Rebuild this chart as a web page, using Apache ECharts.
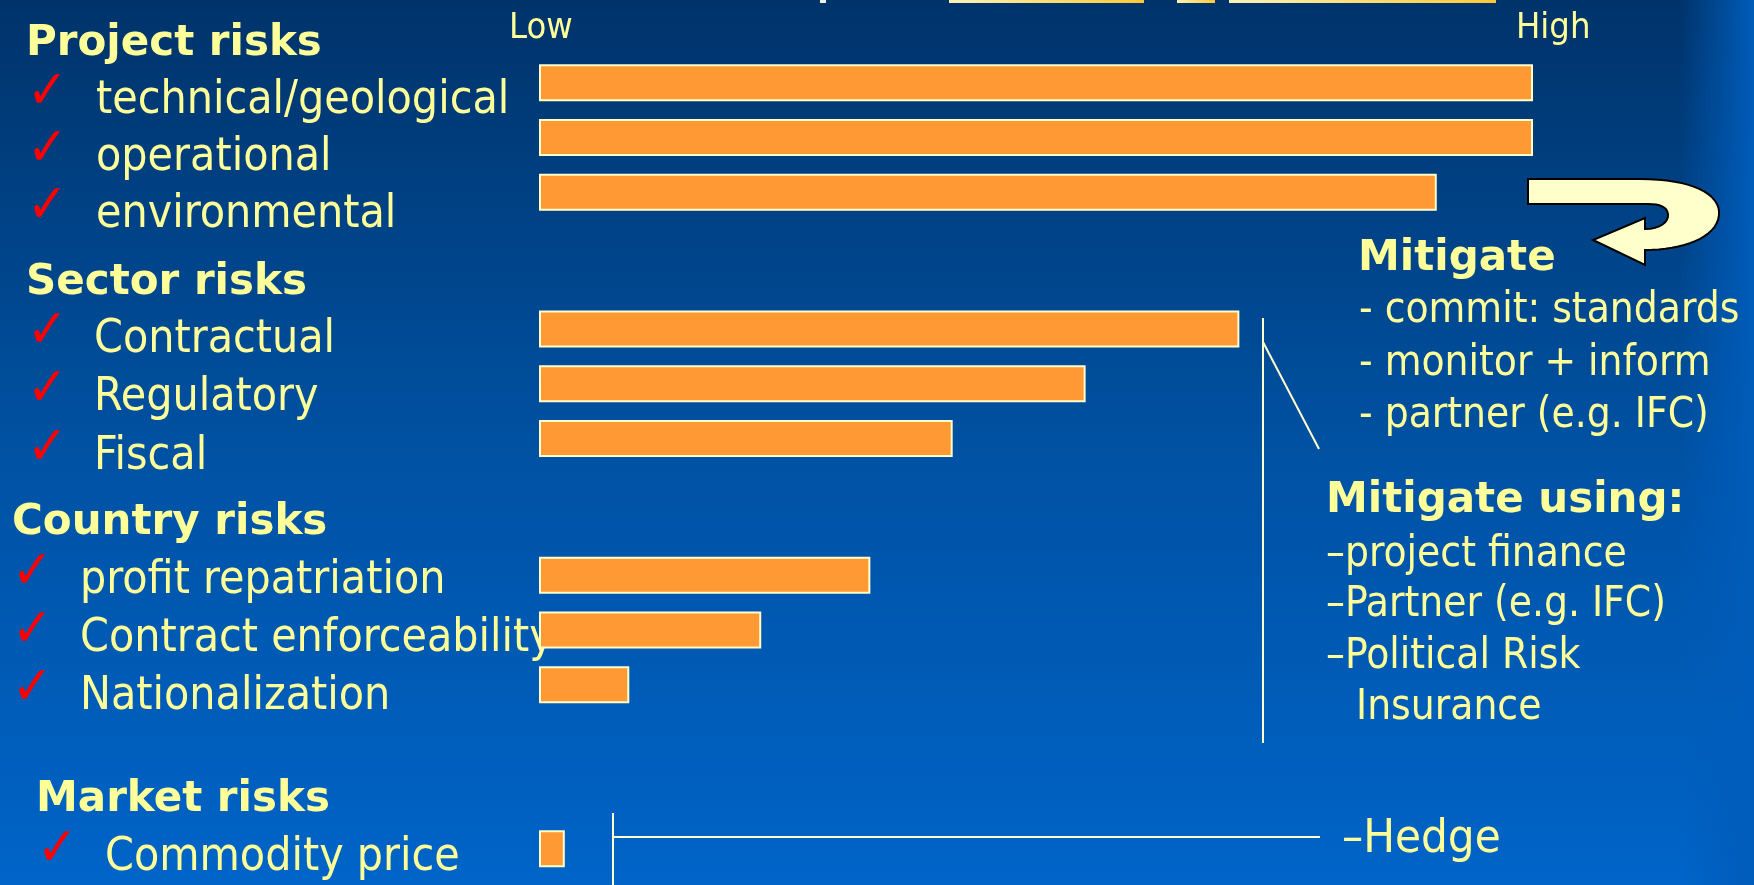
<!DOCTYPE html>
<html>
<head>
<meta charset="utf-8">
<script src="https://cdn.jsdelivr.net/npm/echarts@6/dist/echarts.min.js"></script>
<style>html,body{margin:0;padding:0;overflow:hidden;background:#003a75}#c{width:1754px;height:885px}</style>
</head>
<body>
<div id="c"></div>
<script>
// ---- data ----
const categories = ['technical/geological','','operational','','environmental','','','','',
  'Contractual','','Regulatory','','Fiscal','','','','',
  'profit repatriation','','Contract enforceability','','Nationalization','','','','','',
  'Commodity price'];
const riskValues = [100,null,100,null,90.3,null,null,null,null,
  70.4,null,54.9,null,41.5,null,null,null,null,
  33.2,null,22.2,null,8.9,null,null,null,null,null,
  2.4];
const groupHeadings = ['Project risks','Sector risks','Country risks','Market risks'];
const tickLabels = ['Low','High'];
const mitigateTitle = 'Mitigate';
const mitigateItems = ['- commit: standards','- monitor + inform','- partner (e.g. IFC)'];
const mitigateUsingTitle = 'Mitigate using:';
const mitigateUsingItems = ['\u2013project finance','\u2013Partner (e.g. IFC)','\u2013Political Risk','Insurance'];
const hedgeLabel = '\u2013Hedge';

// ---- layout / style ----
const YELLOW = '#ffff99';
const REG = '"DejaVu Sans Condensed", "DejaVu Sans", sans-serif';
const BOLD = '"DejaVu Sans", sans-serif';
function txt(str, x, y, size, bold, color, z) {
  return { type: 'text', x: x, y: y, z: z == null ? 1 : z, silent: true,
    style: { text: str, fill: color || YELLOW,
      font: (bold ? 'bold ' : '') + size + 'px ' + (bold ? BOLD : REG),
      textAlign: 'left', textVerticalAlign: 'middle' } };
}
function line(x1, y1, x2, y2) {
  return { type: 'line', z: 3, silent: true, shape: { x1, y1, x2, y2 },
    style: { stroke: '#ffffcc', lineWidth: 2 } };
}
function bez(p0, p1, p2, p3, n) {
  const pts = [];
  for (let i = 1; i <= n; i++) {
    const t = i / n, u = 1 - t;
    pts.push([
      u*u*u*p0[0] + 3*u*u*t*p1[0] + 3*u*t*t*p2[0] + t*t*t*p3[0],
      u*u*u*p0[1] + 3*u*u*t*p1[1] + 3*u*t*t*p2[1] + t*t*t*p3[1]
    ]);
  }
  return pts;
}

const items = categories.filter(c => c !== '');
const itemLayout = [
  [96, 101], [96, 158], [96, 215],
  [94, 340], [94, 398], [94, 457],
  [80, 581], [80, 639], [80, 697],
  [105, 858]
];
const checkX = [27, 27, 27, 27, 27, 27, 12, 12, 12, 37];
const headingLayout = [[26, 44], [26, 283], [12, 523], [36, 800]];

const graphics = [];
graphics.push({ type: 'rect', z: -100, silent: true, shape: { x: 0, y: 0, width: 1754, height: 885 },
  style: { fill: new echarts.graphic.LinearGradient(0, 0, 0, 1, [
    { offset: 0, color: '#00336a' }, { offset: 0.5, color: '#0051a2' }, { offset: 1, color: '#0064c8' }]) } });
graphics.push({ type: 'rect', z: -99, silent: true, shape: { x: 1680, y: 0, width: 74, height: 885 },
  style: { fill: new echarts.graphic.LinearGradient(0, 0, 1, 0, [
    { offset: 0, color: 'rgba(0,92,186,0)' }, { offset: 1, color: 'rgba(0,92,186,1)' }]) } });
const sliverFill = () => new echarts.graphic.LinearGradient(0, 0, 1, 0, [
  { offset: 0, color: '#fff2b8' }, { offset: 1, color: '#ffc933' }]);
graphics.push({ type: 'rect', z: -50, silent: true, shape: { x: 820, y: 0, width: 6, height: 3 }, style: { fill: '#f0f0e0' } });
graphics.push({ type: 'rect', z: -50, silent: true, shape: { x: 949, y: 0, width: 195, height: 3 }, style: { fill: sliverFill() } });
graphics.push({ type: 'rect', z: -50, silent: true, shape: { x: 1177, y: 0, width: 38, height: 3 }, style: { fill: sliverFill() } });
graphics.push({ type: 'rect', z: -50, silent: true, shape: { x: 1229, y: 0, width: 267, height: 3 }, style: { fill: sliverFill() } });

groupHeadings.forEach((h, i) => graphics.push(txt(h, headingLayout[i][0], headingLayout[i][1], 42, true)));
items.forEach((name, i) => {
  graphics.push(txt('\u2713', checkX[i], itemLayout[i][1] - 7, 54, false, '#ff0000'));
  graphics.push(txt(name, itemLayout[i][0], itemLayout[i][1], 46, false));
});
graphics.push(txt(tickLabels[0], 509, 29, 36, false));
graphics.push(txt(tickLabels[1], 1516, 29, 36, false));
graphics.push(txt(mitigateTitle, 1358, 259, 42, true));
mitigateItems.forEach((t, i) => graphics.push(txt(t, 1359, [311, 364, 416][i], 42, false)));
graphics.push(txt(mitigateUsingTitle, 1326, 501, 42, true));
mitigateUsingItems.forEach((t, i) => graphics.push(txt(t, i === 3 ? 1356 : 1326, [555, 605, 657, 708][i], 42, false)));
graphics.push(txt(hedgeLabel, 1342, 840, 47, false));
graphics.push(line(1263, 318, 1263, 743));
graphics.push(line(1263, 342, 1319, 449));
graphics.push(line(613, 813, 613, 885));
graphics.push(line(613, 837, 1320, 837));

const arrowPts = [[1528, 179], [1640, 179]]
  .concat(bez([1640, 179], [1692, 179], [1721, 194], [1719, 215], 16))
  .concat(bez([1719, 215], [1717, 238], [1682, 250], [1645, 250], 16))
  .concat([[1645, 265], [1593, 240], [1645, 218], [1645, 229]])
  .concat(bez([1645, 229], [1660, 229], [1669, 222], [1668, 214], 8))
  .concat(bez([1668, 214], [1667, 207], [1660, 204], [1648, 204], 8))
  .concat([[1528, 204]]);
graphics.push({ type: 'polygon', z: 5, silent: true, shape: { points: arrowPts },
  style: { fill: '#ffffcc', stroke: '#000000', lineWidth: 2, lineJoin: 'miter' } });

const barData = [];
riskValues.forEach((v, i) => { if (v != null) barData.push([v, i]); });

const chart = echarts.init(document.getElementById('c'), null, { renderer: 'canvas' });
chart.setOption({
  animation: false,
  grid: { left: 540, right: 222, top: 69.1, height: 793.4, containLabel: false },
  xAxis: { type: 'value', min: 0, max: 100, show: false },
  yAxis: { type: 'category', data: categories, inverse: true, show: false },
  series: [{
    type: 'custom', z: 2, data: barData, encode: { x: 0, y: 1 },
    renderItem: function (params, api) {
      const idx = api.value(1);
      const p0 = api.coord([0, idx]);
      const p1 = api.coord([api.value(0), idx]);
      const h = 35;
      return { type: 'rect',
        shape: { x: p0[0], y: p0[1] - h / 2, width: p1[0] - p0[0], height: h },
        style: { fill: '#ff9933', stroke: '#ffffcc', lineWidth: 2 } };
    }
  }],
  graphic: graphics
});
</script>
</body>
</html>
